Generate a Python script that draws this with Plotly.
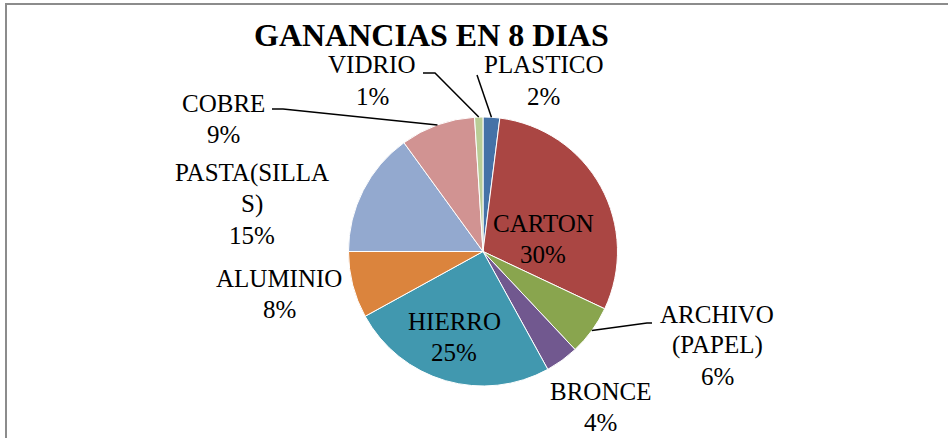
import math
import plotly.graph_objects as go

# ---------------- data ----------------
labels = ["PLASTICO", "CARTON", "ARCHIVO (PAPEL)", "BRONCE", "HIERRO",
          "ALUMINIO", "PASTA(SILLAS)", "COBRE", "VIDRIO"]
values = [2, 30, 6, 4, 25, 8, 15, 9, 1]
label_lines = [["PLASTICO"], ["CARTON"], ["ARCHIVO", "(PAPEL)"], ["BRONCE"],
               ["HIERRO"], ["ALUMINIO"], ["PASTA(SILLA", "S)"], ["COBRE"], ["VIDRIO"]]
colors = ["#4572A7", "#AA4643", "#89A54E", "#71588F", "#4198AF",
          "#DB843D", "#93A9CF", "#D19392", "#B9CD96"]
title = "GANANCIAS EN 8 DIAS"

# ---------------- layout (pixels) ----------------
W, H = 948, 438
CX, CY, R = 483, 251.5, 134.5
label_pos = [(543, 65), (543, 223), (717, 314), (600, 391), (454, 321),
             (279, 278), (252, 173), (223, 103), (372, 65)]
LINE_H = 31
leaders = {0: [(477, 75)], 2: [(652, 323), (647, 323)],
           7: [(272, 109), (283, 109)], 8: [(423, 73), (435, 73)]}
FONT = "Liberation Serif"


def px(x, y):
    return x / W, 1 - y / H


fig = go.Figure()
fig.add_trace(go.Pie(
    labels=labels, values=values, sort=False, direction="clockwise", rotation=0,
    marker=dict(colors=colors, line=dict(color="white", width=1)),
    textinfo="none", hoverinfo="label+percent",
    domain=dict(x=[(CX - R) / W, (CX + R) / W], y=[1 - (CY + R) / H, 1 - (CY - R) / H]),
))

total = sum(values)
annotations = []
shapes = []
cum = 0
for i, v in enumerate(values):
    pct = f"{round(v / total * 100)}%"
    lines = label_lines[i] + [pct]
    cx, cy = label_pos[i]
    for k, t in enumerate(lines):
        x, y = px(cx, cy + k * LINE_H)
        annotations.append(dict(x=x, y=y, xref="paper", yref="paper", text=t,
                                showarrow=False, xanchor="center", yanchor="middle",
                                font=dict(family=FONT, size=25, color="black")))
    theta = 2 * math.pi * (cum + v / 2) / total
    ex, ey = CX + R * math.sin(theta), CY - R * math.cos(theta)
    if i in leaders:
        pts = leaders[i] + [(ex, ey)]
        path = ""
        for j, (a, b) in enumerate(pts):
            xx, yy = px(a, b)
            path += ("M" if j == 0 else " L") + f" {xx:.5f} {yy:.5f}"
        shapes.append(dict(type="path", path=path, xref="paper", yref="paper",
                           line=dict(color="black", width=1.5)))
    cum += v

tx, ty = px(431, 35)
annotations.append(dict(x=tx, y=ty, xref="paper", yref="paper", text=f"<b>{title}</b>",
                        showarrow=False, xanchor="center", yanchor="middle",
                        font=dict(family=FONT, size=32, color="black")))

# chart border (top and left edges visible)
for (x0, y0, x1, y1) in [(5, 4, W, 4), (6, 4, 6, H)]:
    a, b = px(x0, y0)
    c, d = px(x1, y1)
    shapes.append(dict(type="line", x0=a, y0=b, x1=c, y1=d, xref="paper", yref="paper",
                       line=dict(color="#8c8c8c", width=2)))

fig.update_layout(width=W, height=H, autosize=False,
                  margin=dict(l=0, r=0, t=0, b=0),
                  paper_bgcolor="white", plot_bgcolor="white",
                  showlegend=False, annotations=annotations, shapes=shapes)
fig.write_html("out.html", config={"displayModeBar": False},
               post_script="document.body.style.margin='0';document.body.style.overflow='hidden';")
